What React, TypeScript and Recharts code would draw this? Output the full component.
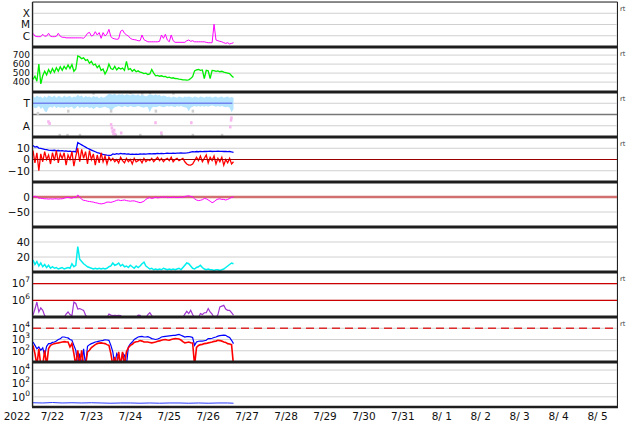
import React from "react";
import {
  ComposedChart,
  Line,
  Area,
  Scatter,
  XAxis,
  YAxis,
  CartesianGrid,
  ReferenceLine,
} from "recharts";

const FONT = "DejaVu Sans, sans-serif";
const W = 634;
const PH = 45; // height of one panel
const TOP = 2;
const RIGHT = 17;
const AXIS_H = 17;

// x axis: days since 7/22 00:00
const dayTicks = [0, 1, 2, 3, 4, 5, 6, 7, 8, 9, 10, 11, 12, 13, 14, 15];
const labelTicks = [0.5, 1.5, 2.5, 3.5, 4.5, 5.5, 6.5, 7.5, 8.5, 9.5, 10.5, 11.5, 12.5, 13.5, 14.5];
const dayLabels = ["7/22", "7/23", "7/24", "7/25", "7/26", "7/27", "7/28", "7/29", "7/30", "7/31", "8/ 1", "8/ 2", "8/ 3", "8/ 4", "8/ 5"];

// samples every 0.05 day
const xrayFlux = [
  1.65e-6, 9.5e-7, 8.3e-7, 8.3e-7, 8.3e-7, 1.35e-6, 9e-7, 9.5e-7, 1.65e-6, 9e-7,
  8.3e-7, 8.3e-7, 9e-7, 1.65e-6, 9e-7, 7.3e-7, 7.3e-7, 6.5e-7, 6.5e-7, 6.5e-7,
  6.5e-7, 6.5e-7, 6.5e-7, 6.5e-7, 6.5e-7, 6.5e-7, 6e-7, 9e-7, 1.65e-6, 2e-6,
  9.5e-7, 1.1e-6, 2.3e-6, 1.17e-6, 1.9e-6, 5.9e-7, 1.9e-6, 9.5e-7, 1.4e-6, 3.7e-6,
  8.3e-7, 5.9e-7, 5.3e-7, 4.8e-7, 5.3e-7, 2.5e-6, 3.2e-6, 1.65e-6, 1.2e-6, 9.5e-7,
  5.9e-7, 4.8e-7, 4.5e-7, 4.2e-7, 3.6e-7, 3.6e-7, 1.17e-6, 4.5e-7, 3.6e-7, 2.9e-7,
  2.9e-7, 2.9e-7, 2.9e-7, 2.9e-7, 2.9e-7, 3.2e-7, 1.17e-6, 5.9e-7, 1.35e-6, 4.2e-7,
  2.9e-7, 1.17e-6, 3.6e-7, 2.6e-7, 2.6e-7, 2.6e-7, 2.6e-7, 2.6e-7, 2.6e-7, 3.6e-7,
  4.2e-7, 3.2e-7, 3.6e-7, 2.9e-7, 2.9e-7, 2.9e-7, 2.9e-7, 2.9e-7, 2.9e-7, 2.6e-7,
  2.4e-7, 2.4e-7, 2.4e-7, 1.05e-5, 4.2e-7, 3.6e-7, 3.2e-7, 2.9e-7, 2.4e-7, 2.1e-7,
  2.4e-7, 1.85e-7, 2.1e-7, 2.4e-7,
];

const windSpeed = [
  430, 465, 410, 600, 380, 470, 520, 480, 540, 500,
  550, 510, 560, 520, 570, 530, 575, 545, 590, 550,
  595, 520, 545, 690, 680, 660, 670, 640, 650, 610,
  630, 590, 600, 560, 585, 530, 545, 490, 530, 600,
  550, 540, 575, 535, 560, 545, 555, 530, 630, 540,
  550, 520, 540, 515, 525, 510, 505, 495, 500, 485,
  490, 540, 500, 470, 475, 465, 470, 460, 462, 450,
  455, 445, 448, 440, 438, 432, 430, 425, 425, 423,
  425, 440, 460, 525, 535, 540, 530, 535, 440, 530,
  525, 440, 530, 528, 520, 525, 515, 520, 510, 505,
  500, 495, 470, 450,
];

const bandHigh = [
  3.65, 3.5, 3.7, 3.55, 3.6, 3.45, 3.65, 3.5, 3.7, 3.6,
  3.55, 3.7, 3.5, 3.65, 3.6, 3.5, 3.7, 3.55, 3.6, 3.65,
  3.5, 3.6, 3.55, 3.75, 3.6, 3.7, 3.5, 3.65, 3.55, 3.6,
  3.5, 3.65, 3.55, 3.6, 3.45, 3.6, 3.5, 3.55, 3.7, 3.85,
  3.8, 3.75, 3.85, 3.7, 3.8, 3.75, 3.8, 3.7, 3.8, 3.75,
  3.7, 3.8, 3.75, 3.7, 3.8, 3.65, 3.75, 3.7, 3.6, 3.7,
  3.8, 3.75, 3.7, 3.8, 3.7, 3.75, 3.6, 3.7, 3.65, 3.55,
  3.6, 3.5, 3.6, 3.55, 3.5, 3.6, 3.55, 3.5, 3.6, 3.55,
  3.6, 3.55, 3.5, 3.6, 3.55, 3.5, 3.6, 3.55, 3.5, 3.6,
  3.55, 3.6, 3.5, 3.55, 3.6, 3.5, 3.55, 3.6, 3.5, 3.55,
  3.6, 3.5, 3.55, 3.5,
];

const bandLow = [
  2.7, 2.55, 2.6, 2.75, 2.5, 2.65, 2.3, 2.2, 2.6, 2.7,
  2.6, 2.75, 2.55, 2.7, 2.6, 2.65, 2.55, 2.7, 2.6, 2.65,
  2.7, 2.5, 2.6, 2.75, 2.55, 2.7, 2.6, 2.65, 2.7, 2.55,
  2.65, 2.5, 2.6, 2.7, 2.55, 2.6, 2.65, 2.7, 2.6, 2.55,
  2.3, 2.5, 2.65, 2.7, 2.75, 2.7, 2.65, 2.75, 2.7, 2.65,
  2.75, 2.7, 2.65, 2.7, 2.75, 2.7, 2.65, 2.6, 2.7, 2.65,
  2.2, 2.6, 2.7, 2.65, 2.7, 2.75, 2.7, 2.65, 2.7, 2.75,
  2.7, 2.75, 2.7, 2.65, 2.75, 2.7, 2.75, 2.7, 2.65, 2.6,
  2.3, 2.6, 2.7, 2.75, 2.7, 2.75, 2.7, 2.75, 2.7, 2.75,
  2.7, 2.75, 2.8, 2.75, 2.7, 2.75, 2.7, 2.75, 2.7, 2.65,
  2.7, 2.6, 2.2, 2.5,
];

const bTotal = [
  12.5, 11, 11.5, 10.2, 9.8, 9.4, 9, 8.7, 8.4, 8.2,
  8, 8.2, 7.8, 8, 7.6, 7.8, 7.4, 7.6, 7.2, 7.4,
  7, 7.2, 6.8, 15, 14, 13, 12, 11, 10, 9.2,
  8.4, 7.6, 6.9, 6.2, 5.6, 5, 4.5, 4.2, 3.9, 3.7,
  3.6, 5, 4.6, 5.2, 4.8, 5.4, 5, 5.2, 4.8, 5,
  4.6, 4.8, 4.5, 4.8, 4.6, 4.9, 4.7, 5, 4.8, 5,
  5.2, 5, 5.3, 5.1, 5.4, 5.2, 5.5, 5.3, 5.4, 5.6,
  5.5, 5.4, 5.6, 5.5, 5.7, 5.6, 5.8, 5.6, 5.7, 5.9,
  6.2, 6.6, 7, 6.8, 7.1, 6.9, 7.2, 7, 7.3, 7.1,
  7.2, 7.4, 7.1, 7.3, 7.2, 7.4, 7.2, 7.3, 7.1, 7.2,
  7, 7.1, 6.7, 6.4,
];

const bzGsm = [
  8, -3, 6, -10, 5, -2, 7, 0, 4, -4,
  6, -1, 8, -3, 5, 1, 6, -5, 4, 0,
  7, -6, 3, 10, -2, 9, 1, 7, -4, 8,
  0, 5, -5, 4, -3, 6, -2, 3, -4, 2,
  -1, 1, -2, 0, -3, 2, -1, -3, 1, -2,
  0, -4, 1, -2, -1, 0, -3, 1, -2, 0,
  -1, 1, -2, 0, 2, -1, 1, -2, 0, 1,
  -1, 2, -2, 0, 1, -1, 0, 1, -2, -4,
  -5, -5, -4, -1, 2, -1, 3, -2, 1, 4,
  -3, 2, -1, 3, -4, 1, -2, 2, -5, 0,
  -3, 1, -4, -2,
];

const dstIndex = [
  -1, 3, 0, -4, -4, -5, -6, -6, -7, -6,
  -7, -6, -6, -7, -6, -6, -4, -2, -1, -3,
  -4, -1, -2, 7, 0, -8, -11, -12, -14, -15,
  -16, -17, -19, -20, -22, -23, -22, -20, -17, -17,
  -18, -16, -14, -11, -10, -12, -11, -10, -12, -13,
  -14, -13, -13, -15, -17, -19, -17, -14, -8, -4,
  -2, -5, -3, -1, -3, -2, 0, -1, 1, -2,
  -1, -2, 0, -1, -2, -1, 0, -1, 2, 3,
  4, 2, 0, -6, -10, -12, -11, -9, -5, -6,
  -10, -14, -19, -16, -10, -7, -6, -8, -8, -10,
  -8, -5, -1, 0,
];

const density = [
  16, 10, 14, 8, 12, 7, 10, 6, 9, 5,
  7, 5, 6, 4, 5, 6, 4, 5, 6, 5,
  11, 7, 9, 34, 17, 14, 11, 9, 7, 6,
  5, 4, 5, 4, 5, 4, 5, 4, 5, 7,
  8, 12, 9, 10, 12, 8, 10, 7, 8, 6,
  9, 7, 5, 8, 6, 8, 11, 13, 8, 6,
  4, 5, 3, 4, 3, 4, 3, 5, 4, 3,
  4, 3, 4, 3, 4, 5, 3, 6, 9, 12,
  11, 8, 5, 4, 6, 7, 9, 6, 4, 3,
  4, 3, 3, 2, 3, 3, 2, 3, 4, 6,
  8, 10, 12, 11,
];

const electronFlux = [
  1.3e5, 3e5, 7.9e5, 2e5, 3.5e5, 2.5e5, 1.2e5, 9e4, 9e4, 9e4,
  9e4, 9e4, 9e4, 9e4, 9e4, 9e4, 9e4, 1.5e5, 2e5, 1.4e5,
  1.2e5, 7.9e5, 6.5e5, 3e5, 3.2e5, 2.8e5, 2.5e5, 1.3e5, 9e4, 9e4,
  9e4, 9e4, 9e4, 9e4, 9e4, 9e4, 9e4, 9e4, 9e4, 1.5e5,
  1.3e5, 1.2e5, 1.25e5, 1.2e5, 1.25e5, 1.2e5, 9e4, 9e4, 9e4, 9e4,
  9e4, 9e4, 9e4, 9e4, 1.3e5, 1.25e5, 9e4, 9e4, 9e4, 1.4e5,
  1.8e5, 1.2e5, 9e4, 9e4, 9e4, 9e4, 9e4, 9e4, 9e4, 9e4,
  9e4, 9e4, 9e4, 9e4, 9e4, 9e4, 9e4, 9e4, 1.5e5, 2.2e5,
  1.6e5, 2.5e5, 1.4e5, 9e4, 9e4, 9e4, 1.6e5, 1.4e5, 1.8e5, 1.8e5,
  3.2e5, 2e5, 1.5e5, 9e4, 9e4, 1.4e5, 4e5, 4.5e5, 5e5, 3e5,
  2.5e5, 2.5e5, 1.8e5, 1.3e5,
];

const protonHigh = [
  600, 300, 150, 215, 110, 180, 40, 250, 430, 430,
  550, 600, 750, 1000, 1150, 1660, 1660, 1500, 1380, 1000,
  850, 300, 110, 5, 56, 5, 150, 5, 250, 350,
  430, 500, 600, 650, 720, 780, 850, 950, 900, 850,
  300, 80, 5, 56, 30, 5, 60, 40, 5, 215,
  400, 600, 1000, 1300, 1660, 1800, 1900, 1660, 1660, 1800,
  1500, 1200, 1100, 1000, 1100, 1300, 1660, 1800, 1900, 2000,
  2100, 2200, 2300, 2350, 2600, 2800, 2400, 2000, 1660, 1800,
  1850, 1700, 1500, 300, 600, 700, 720, 720, 780, 850,
  1200, 1200, 1300, 1500, 1660, 2000, 2200, 2350, 2400, 2350,
  1800, 1500, 850, 430,
];

const protonLow = [
  300, 56, 5, 150, 5, 5, 110, 5, 155, 300,
  370, 430, 470, 500, 550, 600, 650, 620, 600, 215,
  430, 56, 5, 110, 5, 110, 5, 5, 80, 110,
  190, 260, 350, 430, 480, 500, 470, 430, 350, 300,
  56, 5, 28, 5, 80, 5, 80, 5, 80, 190,
  300, 370, 550, 620, 670, 800, 720, 600, 600, 600,
  550, 500, 550, 600, 700, 750, 850, 950, 1000, 900,
  850, 1000, 1100, 1200, 1150, 1100, 900, 650, 500, 550,
  600, 520, 500, 5, 200, 300, 350, 370, 430, 450,
  500, 550, 600, 680, 720, 850, 800, 720, 600, 550,
  430, 400, 350, 5,
];

const lowTimes = [0, 0.25, 0.5, 0.75, 1, 1.25, 1.5, 1.75, 2, 2.25, 2.5, 2.75, 3, 3.25, 3.5, 3.75, 4, 4.25, 4.5, 4.75, 5, 5.15];
const lowFlux = [0.13, 0.12, 0.14, 0.12, 0.13, 0.12, 0.13, 0.12, 0.11, 0.12, 0.12, 0.11, 0.12, 0.11, 0.12, 0.12, 0.11, 0.12, 0.11, 0.12, 0.12, 0.11];

const pinkDots = [
  { t: 0.39, v: 1.36 }, { t: 0.42, v: 1.2 }, { t: 2.0, v: 1.1 }, { t: 2.02, v: 0.8 },
  { t: 2.04, v: 0.5 }, { t: 2.06, v: 0.3 }, { t: 2.08, v: 0.6 }, { t: 2.1, v: 0.25 },
  { t: 2.26, v: 0.36 }, { t: 3.14, v: 1.27 }, { t: 3.29, v: 0.36 }, { t: 4.06, v: 1.27 },
  { t: 5.06, v: 0.9 }, { t: 5.08, v: 1.5 }, { t: 5.09, v: 1.7 },
];
const grayDots = [
  { t: 0.12, v: 2.1 }, { t: 0.68, v: 0.15 }, { t: 0.88, v: 0.15 }, { t: 0.9, v: 2.3 },
  { t: 1.2, v: 0.15 }, { t: 1.55, v: 3.9 }, { t: 2.0, v: 2.3 }, { t: 2.12, v: 0.15 },
  { t: 2.5, v: 3.95 }, { t: 2.75, v: 0.15 }, { t: 2.8, v: 3.9 }, { t: 3.0, v: 3.95 },
  { t: 3.15, v: 2.3 }, { t: 3.3, v: 0.15 }, { t: 3.6, v: 3.9 }, { t: 4.1, v: 2.3 },
  { t: 4.1, v: 0.15 }, { t: 4.85, v: 0.15 },
];
const thresholdT = [{ t: 0, v: 3 }, { t: 5.12, v: 3 }];

const times = xrayFlux.map((_, i) => Math.round(i * 5) / 100);
const rows = times.map((t, i) => ({
  t,
  xray: xrayFlux[i],
  speed: windSpeed[i],
  band: [bandLow[i], bandHigh[i]],
  bt: bTotal[i],
  bz: bzGsm[i],
  dst: dstIndex[i],
  dens: density[i],
  elec: electronFlux[i],
  pHi: protonHigh[i],
  pLo: protonLow[i],
}));
const lowRows = lowTimes.map((t, i) => ({ t, v: lowFlux[i] }));

const tickRenderer = (values: number[], labels: string[], size: number) => (p: any) => {
  const k = values.indexOf(p.payload.value);
  const s = k >= 0 ? labels[k] : "";
  const [base, exp] = s.split("^");
  return (
    <text x={p.x} y={p.y} dy={size * 0.36} textAnchor="end" fontSize={size} fontFamily={FONT} fill="#111">
      <tspan>{base}</tspan>
      {exp !== undefined && (
        <tspan dy={-5} fontSize={7.5}>
          {exp}
        </tspan>
      )}
    </text>
  );
};

const gridParts = (k: string) => [
  <XAxis key={k + "x"} dataKey="t" type="number" domain={[0, 15]} ticks={dayTicks} height={0} tick={false} tickLine={false} axisLine={false} />,
  <CartesianGrid key={k + "g"} stroke="#d0d0d0" strokeWidth={1} />,
];

const yAxis = (domain: number[], ticks: number[], labels: string[], log = false, size = 10.5) => (
  <YAxis
    type="number"
    width={33}
    domain={domain}
    ticks={ticks}
    scale={log ? "log" : "auto"}
    allowDataOverflow
    interval={0}
    tickLine={false}
    axisLine={false}
    tickSize={0}
    tickMargin={3}
    tick={tickRenderer(ticks, labels, size)}
  />
);

function Panel({ idx, children, data = rows, height = PH }: any) {
  return (
    <div style={{ position: "absolute", left: 0, top: TOP + idx * PH }}>
      <ComposedChart width={W} height={height} data={data} margin={{ top: 0, right: RIGHT, bottom: 0, left: 0 }}>
        {children}
      </ComposedChart>
    </div>
  );
}

const ln = { dot: false, activeDot: false, isAnimationActive: false } as const;
const sq = (color: string) => (p: any) => <rect x={p.cx - 1} y={p.cy - 1.5} width={2.5} height={3} fill={color} />;

export default function App() {
  const dividers = [1, 2, 3, 4, 5, 6, 7, 8];
  const rtPanels = [0, 1, 2, 3, 6, 7];
  return (
    <div style={{ position: "absolute", left: 0, top: 0, width: W, height: 424, background: "#fff", overflow: "hidden" }}>
      <Panel idx={0}>
        {gridParts("a")}
        {yAxis([1e-7, 1e-3], [1e-6, 1e-5, 1e-4], ["C", "M", "X"], true)}
        <Line dataKey="xray" stroke="#ff00ff" strokeWidth={1} {...ln} />
      </Panel>
      <Panel idx={1}>
        {gridParts("b")}
        {yAxis([290, 790], [400, 500, 600, 700], ["400", "500", "600", "700"], false, 9)}
        <Line dataKey="speed" stroke="#00ee00" strokeWidth={1.3} {...ln} />
      </Panel>
      <Panel idx={2}>
        {gridParts("c")}
        {yAxis([0, 4], [1, 3], ["A", "T"])}
        <ReferenceLine y={2} stroke="#777" strokeWidth={1.5} />
        <Scatter data={grayDots} dataKey="v" shape={sq("#cfcfcf")} isAnimationActive={false} />
        <Area dataKey="band" stroke="none" fill="#b4e4ff" fillOpacity={1} {...ln} />
        <Line data={thresholdT} dataKey="v" stroke="#7283ee" strokeWidth={1.5} {...ln} />
        <Scatter data={pinkDots} dataKey="v" shape={sq("#f6b6ee")} isAnimationActive={false} />
      </Panel>
      <Panel idx={3}>
        {gridParts("d")}
        {yAxis([-20, 20], [-10, 0, 10], ["\u221210", "0", "10"])}
        <Line dataKey="bt" stroke="#0000ff" strokeWidth={1.3} {...ln} />
        <Line dataKey="bz" stroke="#ff0000" strokeWidth={1.3} {...ln} />
        <ReferenceLine y={0} stroke="#990000" strokeWidth={1} />
      </Panel>
      <Panel idx={4}>
        {gridParts("e")}
        {yAxis([-100, 50], [-50, 0], ["\u221250", "0"])}
        <ReferenceLine y={0} stroke="#d27070" strokeWidth={2.5} />
        <Line dataKey="dst" stroke="#ff00ff" strokeWidth={1} {...ln} />
      </Panel>
      <Panel idx={5}>
        {gridParts("f")}
        {yAxis([0, 60], [20, 40], ["20", "40"])}
        <Line dataKey="dens" stroke="#00eeee" strokeWidth={1.5} {...ln} />
      </Panel>
      <Panel idx={6}>
        {gridParts("g")}
        {yAxis([1e5, 5e7], [1e6, 1e7], ["10^6", "10^7"], true)}
        <ReferenceLine y={1e6} stroke="#cc0000" strokeWidth={1.2} />
        <ReferenceLine y={1e7} stroke="#cc0000" strokeWidth={1.2} />
        <Line dataKey="elec" stroke="#a035d0" strokeWidth={1.2} {...ln} />
      </Panel>
      <Panel idx={7}>
        {gridParts("h")}
        {yAxis([10, 1e5], [1e2, 1e3, 1e4], ["10^2", "10^3", "10^4"], true)}
        <ReferenceLine y={1e4} stroke="#dd2a2a" strokeWidth={1.5} strokeDasharray="8 5" />
        <Line dataKey="pHi" stroke="#0000ff" strokeWidth={1.2} {...ln} />
        <Line dataKey="pLo" stroke="#ff0000" strokeWidth={1.6} {...ln} />
      </Panel>
      <Panel idx={8} data={lowRows} height={PH + AXIS_H}>
        <XAxis dataKey="t" type="number" domain={[0, 15]} ticks={dayTicks} height={0} tick={false} tickLine={false} axisLine={false} />
        <XAxis
          xAxisId="lab"
          dataKey="t"
          type="number"
          domain={[0, 15]}
          allowDataOverflow
          ticks={labelTicks}
          interval={0}
          height={AXIS_H}
          axisLine={false}
          tickLine={false}
          tickSize={0}
          tickMargin={6}
          tickFormatter={(v: number) => dayLabels[Math.floor(v)]}
          tick={{ fontSize: 10.5, fill: "#111", fontFamily: FONT }}
        />
        <CartesianGrid stroke="#d0d0d0" strokeWidth={1} />
        {yAxis([0.03, 1.6e5], [1, 1e2, 1e4], ["10^0", "10^2", "10^4"], true)}
        <Line dataKey="v" stroke="#2a3cff" strokeWidth={1} {...ln} />
      </Panel>
      <svg width={W} height={424} style={{ position: "absolute", left: 0, top: 0, pointerEvents: "none" }}>
        <line x1={32.5} y1={TOP} x2={617.5} y2={TOP} stroke="#222" strokeWidth={1.2} />
        {dividers.map((k) => (
          <line key={k} x1={32} y1={TOP + k * PH} x2={618} y2={TOP + k * PH} stroke="#1e1e1e" strokeWidth={3} />
        ))}
        <line x1={32} y1={TOP + 9 * PH} x2={618} y2={TOP + 9 * PH} stroke="#1e1e1e" strokeWidth={2.5} />
        <line x1={32.5} y1={TOP} x2={32.5} y2={TOP + 9 * PH} stroke="#222" strokeWidth={1.3} />
        <line x1={617.5} y1={TOP} x2={617.5} y2={TOP + 9 * PH} stroke="#222" strokeWidth={1} />
        {rtPanels.map((k) => (
          <text key={k} x={620} y={TOP + k * PH + 9} fontSize={6.5} fontFamily={FONT} fill="#333">
            rt
          </text>
        ))}
        <text x={17} y={420} textAnchor="middle" fontSize={10.5} fontFamily={FONT} fill="#111">
          2022
        </text>
      </svg>
    </div>
  );
}
